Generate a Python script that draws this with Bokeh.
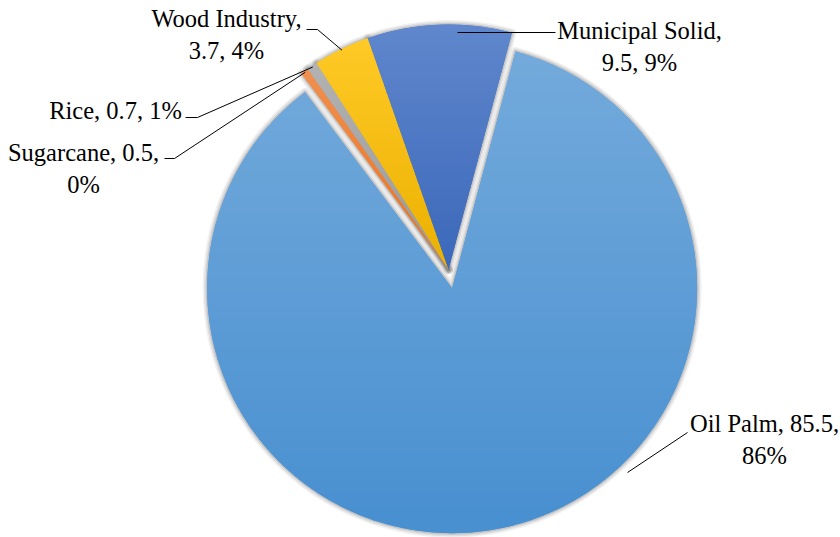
import math
import colorsys
from bokeh.plotting import figure
from bokeh.models import Range1d, ColumnDataSource
from bokeh.core.properties import value
from bokeh.embed import file_html
from bokeh.resources import INLINE

# ---- data (clockwise order starting at the first-slice angle) ----
categories = ["Oil Palm", "Sugarcane", "Rice", "Wood Industry", "Municipal Solid"]
values = [85.5, 0.5, 0.7, 3.7, 9.5]
percent_labels = ["86%", "0%", "1%", "4%", "9%"]
colors = ["#5B9BD5", "#ED7D31", "#A5A5A5", "#FFC000", "#4472C4"]
explode = [19, 0, 0, 0, 0]          # pixels
first_slice_angle = 15.0            # degrees clockwise from 12 o'clock

# ---- layout (pixels, top-left origin) ----
W, H = 840, 537
CX, CY, R = 448, 269, 245
FONT = "'Liberation Serif', 'DejaVu Serif', serif"
FSIZE = "24.5px"
label_text = [
    f"{categories[0]}, {values[0]},\n{percent_labels[0]}",
    f"{categories[1]}, {values[1]},\n{percent_labels[1]}",
    f"{categories[2]}, {values[2]}, {percent_labels[2]}",
    f"{categories[3]},\n{values[3]}, {percent_labels[3]}",
    f"{categories[4]},\n{values[4]}, {percent_labels[4]}",
]
label_pos = [(764, 439), (83, 168), (115, 110), (226, 34), (639, 46)]
leader_label_side = [
    [(687, 432)],
    [(164, 158), (174, 158)],
    [(185, 117), (197, 117)],
    [(306, 29), (317, 29)],
    [(555, 32)],
]
leader_slice_end = [(627, 472), None, None, None, (457, 32)]
GRAD_BANDS = 36


def X(px):
    return px


def Y(py):
    return H - py


def hex_rgb(h):
    h = h.lstrip("#")
    return tuple(int(h[i:i + 2], 16) for i in (0, 2, 4))


def rgb_hex(c):
    return "#%02x%02x%02x" % tuple(max(0, min(255, int(round(v)))) for v in c)


def shade(rgb, l_fn):
    h, l, s = colorsys.rgb_to_hls(*(c / 255 for c in rgb))
    r, g, b = colorsys.hls_to_rgb(h, l_fn(l), s)
    return (r * 255, g * 255, b * 255)


def clip_half(poly, y_lim, keep_above):
    out = []
    n = len(poly)
    for i in range(n):
        (x1, y1), (x2, y2) = poly[i], poly[(i + 1) % n]
        in1 = (y1 >= y_lim) if keep_above else (y1 <= y_lim)
        in2 = (y2 >= y_lim) if keep_above else (y2 <= y_lim)
        if in1:
            out.append((x1, y1))
        if in1 != in2:
            t = (y_lim - y1) / (y2 - y1)
            out.append((x1 + t * (x2 - x1), y_lim))
    return out


total = sum(values)
starts, ends, cxs, cys, mids, spans = [], [], [], [], [], []
theta = first_slice_angle
for v, ex in zip(values, explode):
    span = v / total * 360.0
    t1, t2 = theta, theta + span
    mid = math.radians((t1 + t2) / 2)
    cx = CX + ex * math.sin(mid)
    cy = CY - ex * math.cos(mid)   # screen y grows down
    cxs.append(X(cx))
    cys.append(Y(cy))
    starts.append(math.radians(90 - t2))
    ends.append(math.radians(90 - t1))
    mids.append(mid)
    spans.append((t1, t2))
    theta = t2

src = ColumnDataSource(dict(x=cxs, y=cys, start=starts, end=ends, color=colors,
                            name=categories, value=values))

p = figure(width=W, height=H, x_range=Range1d(0, W), y_range=Range1d(0, H),
           output_backend="svg", toolbar_location=None, min_border=0,
           outline_line_color=None, background_fill_color="white")
p.axis.visible = False
p.grid.visible = False

# soft shadow
for lw, a in [(9, 0.10), (6, 0.15), (3, 0.25)]:
    p.wedge(x="x", y="y", radius=R, start_angle="start", end_angle="end",
            direction="anticlock", source=src, fill_color=None,
            line_color="#777777", line_alpha=a, line_width=lw,
            line_join="round")

p.wedge(x="x", y="y", radius=R, start_angle="start", end_angle="end",
        direction="anticlock", source=src, fill_color="color",
        line_color=None)

# vertical gradient overlay (lighter top -> darker bottom) per slice
gx, gy, gc = [], [], []
for i in range(len(values)):
    t1, t2 = spans[i]
    cx, cy = cxs[i], cys[i]
    poly = [(cx, cy)]
    steps = max(4, int((t2 - t1) / 0.5))
    for k in range(steps + 1):
        a = math.radians(t1 + (t2 - t1) * k / steps)
        poly.append((cx + R * math.sin(a), cy + R * math.cos(a)))
    ys_ = [q[1] for q in poly]
    top, bot = max(ys_), min(ys_)
    base = hex_rgb(colors[i])
    light = shade(base, lambda l: l + (1 - l) * 0.15)
    dark = shade(base, lambda l: l * 0.92)
    for b in range(GRAD_BANDS):
        y_hi = top - (top - bot) * b / GRAD_BANDS
        y_lo = top - (top - bot) * (b + 1) / GRAD_BANDS
        part = clip_half(poly, y_lo - 0.6, True)
        part = clip_half(part, y_hi + 0.6, False) if part else []
        if len(part) < 3:
            continue
        f = (b + 0.5) / GRAD_BANDS
        col = tuple(light[j] + (dark[j] - light[j]) * f for j in range(3))
        gx.append([q[0] for q in part])
        gy.append([q[1] for q in part])
        gc.append(rgb_hex(col))
p.patches(xs=gx, ys=gy, fill_color=gc, line_color=None)

# leader lines
for i in range(len(categories)):
    pts = list(leader_label_side[i])
    end = leader_slice_end[i]
    if end is None:
        end = (CX + R * 0.995 * math.sin(mids[i]), CY - R * 0.995 * math.cos(mids[i]))
    pts.append(end)
    p.line([X(a) for a, b in pts], [Y(b) for a, b in pts], line_color="black",
           line_width=1)

# labels
p.text(x=[X(a) for a, b in label_pos], y=[Y(b) for a, b in label_pos],
       text=label_text, text_align="center", text_baseline="middle",
       text_font=value(FONT), text_font_size=FSIZE, text_color="#000000",
       text_line_height=1.2)

open("out.html", "w").write(file_html(p, INLINE))
